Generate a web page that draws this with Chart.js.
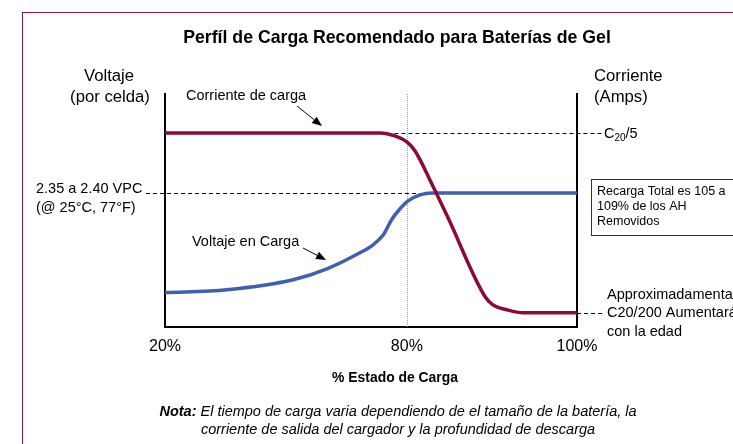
<!DOCTYPE html>
<html>
<head>
<meta charset="utf-8">
<script src="https://cdn.jsdelivr.net/npm/chart.js@4"></script>
<style>
  body { margin: 0; background: #fff; }
  #wrap { position: relative; width: 733px; height: 444px; overflow: hidden; }
</style>
</head>
<body>
<div id="wrap"><canvas id="chart" width="733" height="444"></canvas></div>
<script>
// x is the position along the state-of-charge axis (0 = 20%, 100 = 100%), y is relative level
const xTickPos = [0, 58.7, 100];
const xTickLabels = ['20%', '80%', '100%'];

// Corriente de carga
const currentX = [0, 52.2, 55.8, 58.7, 60.7, 64.3, 68.7, 77.7, 79.6, 83.0, 86.9, 100];
const currentY = [83.3, 83.3, 82.0, 79.4, 75.5, 63.1, 46.8, 12.9, 9.4, 7.3, 6.0, 6.0];

// Voltaje en Carga
const voltageX = [0, 15.0, 31.1, 39.3, 47.3, 50.5, 53.0, 55.0, 57.0, 59.0, 61.9, 64.8, 100];
const voltageY = [14.7, 15.9, 20.2, 24.9, 31.8, 35.2, 39.5, 46.0, 50.6, 54.1, 56.7, 57.5, 57.5];

// dashed reference lines: level, from, to
const refLevels = [83.3, 57.5, 6.0];
const refFrom = [54.0, -4.6, 100];
const refTo = [106.3, 63.3, 106.3];
const markerAt = 58.7; // 80% dotted line

const FONT = '"Liberation Sans", Arial, sans-serif';

function toPoints(xs, ys) {
    return xs.map((x, i) => ({ x: x, y: ys[i] }));
}

function arrow(ctx, x1, y1, x2, y2) {
    const a = Math.atan2(y2 - y1, x2 - x1);
    const len = 10, w = 4;
    ctx.beginPath();
    ctx.moveTo(x1, y1);
    ctx.lineTo(x2 - len * Math.cos(a), y2 - len * Math.sin(a));
    ctx.stroke();
    ctx.beginPath();
    ctx.moveTo(x2, y2);
    ctx.lineTo(x2 - len * Math.cos(a) + w * Math.sin(a), y2 - len * Math.sin(a) - w * Math.cos(a));
    ctx.lineTo(x2 - len * Math.cos(a) - w * Math.sin(a), y2 - len * Math.sin(a) + w * Math.cos(a));
    ctx.closePath();
    ctx.fill();
}

const decorations = {
    id: 'decorations',
    beforeDraw(chart) {
        const ctx = chart.ctx;
        ctx.save();
        // outer frame
        ctx.strokeStyle = '#8a1c3c';
        ctx.lineWidth = 1;
        ctx.strokeRect(22.5, 12.5, 900, 600);
        ctx.restore();
    },
    beforeDatasetsDraw(chart) {
        const ctx = chart.ctx;
        const xs = chart.scales.x, ys = chart.scales.y;
        ctx.save();
        // dotted 80% line
        ctx.strokeStyle = '#9a9a9a';
        ctx.lineWidth = 1;
        ctx.setLineDash([1, 1]);
        const mx = Math.round(xs.getPixelForValue(markerAt)) + 0.5;
        ctx.beginPath();
        ctx.moveTo(mx, chart.chartArea.top);
        ctx.lineTo(mx, chart.chartArea.bottom);
        ctx.stroke();
        // dashed reference lines
        ctx.strokeStyle = '#000';
        ctx.setLineDash([4, 3]);
        refLevels.forEach((lvl, i) => {
            const y = Math.round(ys.getPixelForValue(lvl)) + 0.5;
            ctx.beginPath();
            ctx.moveTo(xs.getPixelForValue(refFrom[i]), y);
            ctx.lineTo(xs.getPixelForValue(refTo[i]), y);
            ctx.stroke();
        });
        ctx.restore();
    },
    afterDraw(chart) {
        const ctx = chart.ctx;
        ctx.save();
        ctx.fillStyle = '#000';
        ctx.strokeStyle = '#000';
        ctx.textBaseline = 'middle';

        ctx.font = 'bold 17.7px ' + FONT;
        ctx.textAlign = 'center';
        ctx.fillText('Perfíl de Carga Recomendado para Baterías de Gel', 397, 38);

        ctx.font = '16.7px ' + FONT;
        ctx.fillText('Voltaje', 109, 76);
        ctx.fillText('(por celda)', 110, 97);
        ctx.textAlign = 'left';
        ctx.fillText('Corriente', 594, 76);
        ctx.fillText('(Amps)', 594, 97);

        ctx.font = '14.5px ' + FONT;
        ctx.fillText('Corriente de carga', 186, 96);
        ctx.fillText('2.35 a 2.40 VPC', 36, 189);
        ctx.fillText('(@ 25°C, 77°F)', 36, 208);
        ctx.fillText('Voltaje en Carga', 192, 242);
        ctx.fillText('Approximadamenta', 607, 295);
        ctx.fillText('C20/200 Aumentará', 607, 313);
        ctx.fillText('con la edad', 607, 332);

        // C20/5
        ctx.textBaseline = 'alphabetic';
        ctx.fillText('C', 604, 138);
        let cx = 604 + ctx.measureText('C').width;
        ctx.font = '10px ' + FONT;
        ctx.fillText('20', cx, 141);
        cx += ctx.measureText('20').width;
        ctx.font = '14.5px ' + FONT;
        ctx.fillText('/5', cx, 138);
        ctx.textBaseline = 'middle';

        // arrows
        ctx.lineWidth = 1;
        arrow(ctx, 297, 106, 322, 126);
        arrow(ctx, 303, 248, 326, 260);

        // box
        ctx.fillStyle = '#fff';
        ctx.fillRect(591, 179, 150, 57);
        ctx.strokeStyle = '#333';
        ctx.strokeRect(591.5, 179.5, 150, 56);
        ctx.fillStyle = '#000';
        ctx.font = '12.5px ' + FONT;
        ctx.fillText('Recarga Total es 105 a', 597, 192);
        ctx.fillText('109% de los AH', 597, 207);
        ctx.fillText('Removidos', 597, 222);

        // axis title
        ctx.textAlign = 'center';
        ctx.font = 'bold 13.9px ' + FONT;
        ctx.fillText('% Estado de Carga', 395, 378);

        // note
        const note = [['Nota:', ' El tiempo de carga varia dependiendo de el tamaño de la batería, la'],
                      ['', 'corriente de salida del cargador y la profundidad de descarga']];
        const ny = [412, 430];
        ctx.textAlign = 'left';
        note.forEach((ln, i) => {
            ctx.font = 'italic bold 14.5px ' + FONT;
            const w1 = ctx.measureText(ln[0]).width;
            ctx.font = 'italic 14.5px ' + FONT;
            const w2 = ctx.measureText(ln[1]).width;
            const sx = 398 - (w1 + w2) / 2;
            ctx.font = 'italic bold 14.5px ' + FONT;
            ctx.fillText(ln[0], sx, ny[i]);
            ctx.font = 'italic 14.5px ' + FONT;
            ctx.fillText(ln[1], sx + w1, ny[i]);
        });
        ctx.restore();
    }
};

new Chart(document.getElementById('chart'), {
    type: 'line',
    data: {
        datasets: [
            {
                label: 'Corriente de carga',
                data: toPoints(currentX, currentY),
                borderColor: '#8b0a38',
                borderWidth: 3.5,
                pointRadius: 0,
                cubicInterpolationMode: 'monotone',
                yAxisID: 'y'
            },
            {
                label: 'Voltaje en Carga',
                data: toPoints(voltageX, voltageY),
                borderColor: '#3f5faf',
                borderWidth: 3.5,
                pointRadius: 0,
                cubicInterpolationMode: 'monotone',
                yAxisID: 'y'
            }
        ]
    },
    options: {
        responsive: false,
        animation: false,
        layout: { padding: { left: 165, right: 156, top: 94, bottom: 78 } },
        plugins: { legend: { display: false }, tooltip: { enabled: false } },
        scales: {
            x: {
                type: 'linear',
                min: 0,
                max: 100,
                grid: { display: false, drawTicks: false },
                border: { display: true, color: '#000', width: 2 },
                afterBuildTicks: axis => { axis.ticks = xTickPos.map(v => ({ value: v })); },
                ticks: {
                    padding: 10,
                    color: '#000',
                    font: { family: FONT, size: 16 },
                    maxRotation: 0,
                    callback: (v) => xTickLabels[xTickPos.indexOf(v)]
                }
            },
            y: {
                min: 0,
                max: 100,
                position: 'left',
                grid: { display: false, drawTicks: false },
                border: { display: true, color: '#000', width: 2 },
                ticks: { display: false }
            },
            y2: {
                min: 0,
                max: 100,
                position: 'right',
                grid: { display: false, drawTicks: false },
                border: { display: true, color: '#000', width: 2 },
                ticks: { display: false }
            }
        }
    },
    plugins: [decorations]
});
</script>
</body>
</html>
